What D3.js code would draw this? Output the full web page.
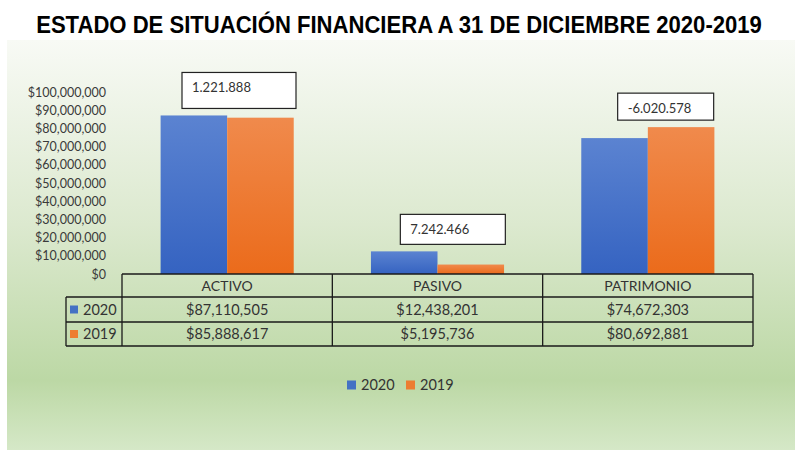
<!DOCTYPE html>
<html>
<head>
<meta charset="utf-8">
<script src="https://cdn.jsdelivr.net/npm/d3@7"></script>
<style>
  body { margin: 0; background: #fff; }
  text { font-family: Lato, "Open Sans", sans-serif; }
</style>
</head>
<body>
<svg id="here"></svg>
<script>
// data
const categories = ["ACTIVO", "PASIVO", "PATRIMONIO"];
const years = ["2020", "2019"];
const values2020 = [87110505, 12438201, 74672303];
const values2019 = [85888617, 5195736, 80692881];
const diffLabels = ["1.221.888", "7.242.466", "-6.020.578"];
const yTicks = [0, 10e6, 20e6, 30e6, 40e6, 50e6, 60e6, 70e6, 80e6, 90e6, 100e6];

const width = 795, height = 450;
const svg = d3.select("#here").attr("width", width).attr("height", height);
const defs = svg.append("defs");

// background panel gradient
const bg = defs.append("linearGradient").attr("id", "bg").attr("x1", 0).attr("y1", 0).attr("x2", 0).attr("y2", 1);
bg.append("stop").attr("offset", "0%").attr("stop-color", "#f8faf5");
bg.append("stop").attr("offset", "45%").attr("stop-color", "#dce9cf");
bg.append("stop").attr("offset", "83%").attr("stop-color", "#bcd8a5");
bg.append("stop").attr("offset", "100%").attr("stop-color", "#d5e8c7");

const gBlue = defs.append("linearGradient").attr("id", "gblue").attr("x1", 0).attr("y1", 0).attr("x2", 0).attr("y2", 1);
gBlue.append("stop").attr("offset", "0%").attr("stop-color", "#5b83d1");
gBlue.append("stop").attr("offset", "100%").attr("stop-color", "#3563c1");
const gOrange = defs.append("linearGradient").attr("id", "gorange").attr("x1", 0).attr("y1", 0).attr("x2", 0).attr("y2", 1);
gOrange.append("stop").attr("offset", "0%").attr("stop-color", "#f08a4c");
gOrange.append("stop").attr("offset", "100%").attr("stop-color", "#eb6b1b");

const fills = {"2020": "url(#gblue)", "2019": "url(#gorange)"};
const keyColor = {"2020": "#4472c4", "2019": "#ed7d31"};

svg.append("rect").attr("x", 7).attr("y", 40).attr("width", width - 7).attr("height", height - 40)
  .attr("fill", "url(#bg)");

// title: condensed look by squeezing horizontally to the original width
const title = svg.append("text")
  .attr("text-anchor", "middle")
  .style("font-family", "'Liberation Sans', Arial, sans-serif")
  .attr("font-weight", "bold")
  .attr("font-size", 24.5)
  .attr("fill", "#000")
  .text("ESTADO DE SITUACIÓN FINANCIERA A 31 DE DICIEMBRE 2020-2019");
const tw = title.node().getComputedTextLength();
title.attr("transform", `translate(399,32.5) scale(${726 / tw},1)`);

const margin = {left: 122, right: 42, top: 92, bottom: 176};
const x0 = d3.scaleBand().domain(categories).range([margin.left, width - margin.right]);
const x1 = d3.scaleBand().domain(years).range([0, x0.bandwidth()]).paddingOuter(0.58);
const y = d3.scaleLinear().domain([0, 100e6]).range([height - margin.bottom, margin.top]);

const rows = categories.map((c, i) => ({cat: c, "2020": values2020[i], "2019": values2019[i]}));

// y axis
const yAxis = svg.append("g")
  .attr("transform", `translate(106,0)`)
  .call(d3.axisLeft(y).tickValues(yTicks).tickSize(0).tickPadding(0)
    .tickFormat(d => "$" + d3.format(",")(d)));
yAxis.select(".domain").remove();
yAxis.selectAll("text").attr("font-size", 12.5).attr("fill", "#3a3a3a")
  .style("font-family", "Lato, sans-serif");

// bars
const groups = svg.append("g").selectAll("g").data(rows).enter().append("g")
  .attr("transform", d => `translate(${x0(d.cat)},0)`);
groups.selectAll("rect")
  .data(d => years.map(k => ({key: k, value: d[k]})))
  .enter().append("rect")
  .attr("x", d => x1(d.key))
  .attr("width", x1.bandwidth())
  .attr("y", d => y(d.value))
  .attr("height", d => y(0) - y(d.value))
  .attr("fill", d => fills[d.key]);

// annotation text boxes
const boxOffset = [60, 68, 75];
const boxW = [114, 105, 96];
const boxH = [36, 30, 27];
categories.forEach((c, i) => {
  const top = y(Math.max(values2020[i], values2019[i]));
  const bx = x0(c) + boxOffset[i];
  const by = top - 7 - boxH[i];
  svg.append("rect").attr("x", bx).attr("y", by).attr("width", boxW[i]).attr("height", boxH[i])
    .attr("fill", "#fff").attr("stroke", "#222").attr("stroke-width", 1.2);
  svg.append("text").attr("x", bx + 10).attr("y", by + 15).attr("dy", "0.35em")
    .attr("font-size", 13).attr("fill", "#333").text(diffLabels[i]);
});

// data table
const y0 = y(0);
const rowH = [23, 25, 24];
const rowY = [y0, y0 + rowH[0], y0 + rowH[0] + rowH[1], y0 + rowH[0] + rowH[1] + rowH[2]];
const keyLeft = 66;
const right = width - margin.right;
const tbl = svg.append("g").attr("stroke", "#1a1a1a").attr("stroke-width", 1.3);
tbl.append("line").attr("x1", margin.left).attr("x2", right).attr("y1", rowY[0]).attr("y2", rowY[0]);
[1, 2, 3].forEach(r => tbl.append("line").attr("x1", keyLeft).attr("x2", right).attr("y1", rowY[r]).attr("y2", rowY[r]));
tbl.append("line").attr("x1", keyLeft).attr("x2", keyLeft).attr("y1", rowY[1]).attr("y2", rowY[3]);
categories.forEach(c => tbl.append("line").attr("x1", x0(c)).attr("x2", x0(c)).attr("y1", rowY[0]).attr("y2", rowY[3]));
tbl.append("line").attr("x1", right).attr("x2", right).attr("y1", rowY[0]).attr("y2", rowY[3]);

categories.forEach((c, i) => {
  const cx = x0(c) + x0.bandwidth() / 2;
  svg.append("text").attr("x", cx).attr("y", (rowY[0] + rowY[1]) / 2 + 1).attr("dy", "0.35em")
    .attr("text-anchor", "middle").attr("font-size", 14).attr("fill", "#333").text(c);
  svg.append("text").attr("x", cx).attr("y", (rowY[1] + rowY[2]) / 2).attr("dy", "0.35em")
    .attr("text-anchor", "middle").attr("font-size", 14.5).attr("fill", "#333")
    .text("$" + d3.format(",")(values2020[i]));
  svg.append("text").attr("x", cx).attr("y", (rowY[2] + rowY[3]) / 2).attr("dy", "0.35em")
    .attr("text-anchor", "middle").attr("font-size", 14.5).attr("fill", "#333")
    .text("$" + d3.format(",")(values2019[i]));
});
years.forEach((k, r) => {
  const cy = (rowY[r + 1] + rowY[r + 2]) / 2;
  svg.append("rect").attr("x", 70).attr("y", cy - 4).attr("width", 8).attr("height", 8).attr("fill", keyColor[k]);
  svg.append("text").attr("x", 83).attr("y", cy).attr("dy", "0.35em")
    .attr("font-size", 14.5).attr("fill", "#333").text(k);
});

// legend
const legend = svg.append("g").attr("transform", "translate(347,385)");
years.forEach((k, i) => {
  const g = legend.append("g").attr("transform", `translate(${i * 59},0)`);
  g.append("rect").attr("x", 0).attr("y", -4.5).attr("width", 9).attr("height", 9).attr("fill", keyColor[k]);
  g.append("text").attr("x", 14).attr("y", 0).attr("dy", "0.35em")
    .attr("font-size", 14.5).attr("fill", "#333").text(k);
});
</script>
</body>
</html>
